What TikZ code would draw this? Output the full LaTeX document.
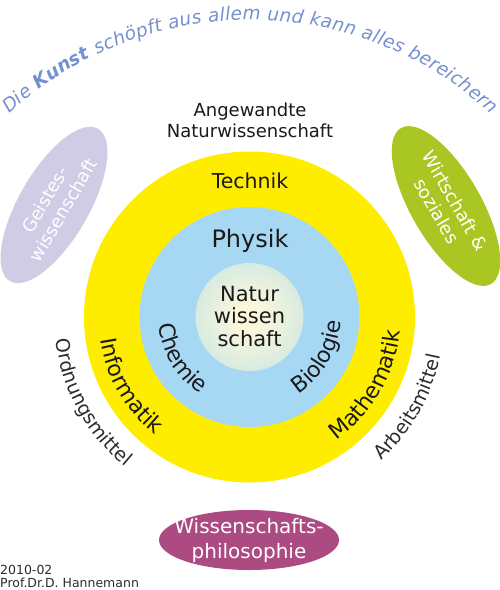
\documentclass[tikz,border=0pt]{standalone}
\usepackage{fontspec}
\setmainfont{DejaVu Sans}
\usetikzlibrary{shapes.geometric,decorations.text}
\definecolor{ringyellow}{HTML}{FFED00}
\definecolor{skyblue}{HTML}{A6D8F4}
\definecolor{glowin}{HTML}{FBF7DC}
\definecolor{glowout}{HTML}{A9DBE6}
\definecolor{lavender}{HTML}{D0CCE6}
\definecolor{leaf}{HTML}{A9C623}
\definecolor{berry}{HTML}{AC4A82}
\definecolor{artblue}{HTML}{7490CE}
\definecolor{ink}{HTML}{1A1A1A}
\definecolor{greyink}{HTML}{2B2B2B}
\pgfdeclareradialshading{glow}{\pgfpoint{0bp}{0bp}}{color(0bp)=(glowin); color(6bp)=(glowin); color(50bp)=(glowout); color(100bp)=(glowout)}
\newcommand{\fs}[1]{\fontsize{#1}{#1}\selectfont}
\begin{document}
\begin{tikzpicture}[x=1pt,y=1pt,
  disc/.style={circle, inner sep=0pt},
  blob/.style={ellipse, inner sep=0pt},
  blobtext/.style={text=white, align=center, inner sep=0pt},
  arclabel/.style={decorate, decoration={text along path, text align=center, text color=#1}},
  arclabel/.default=ink]
\useasboundingbox (0,0) rectangle (500,-590);
\coordinate (c) at (249.5,-317);
\coordinate (artc) at (250,-376);
% circles
\node[disc, fill=ringyellow, minimum size=331pt] (ring) at (c) {};
\node[disc, fill=skyblue, minimum size=220pt] (field) at (c) {};
\node[disc, shading=glow, minimum size=108pt] (core) at (c) {};
\node[align=center, text=ink, font=\fontsize{21}{22.5}\selectfont] (natur) at (249.5,-316) {Natur\\wissen\\schaft};
% straight labels
\node[align=center, text=ink, font=\fontsize{18}{21}\selectfont, inner sep=0pt] (angew) at (250,-120.6) {Angewandte\\Naturwissenschaft};
\node[anchor=base, text=ink, font=\fs{20.5}, inner sep=0pt] (technik) at (250,-188) {Technik};
\node[anchor=base, text=ink, font=\fs{24}, inner sep=0pt] (physik) at (250,-247) {Physik};
% curved labels
\path[arclabel, decoration={text={|\fs{22}|Chemie}}] ([shift={(166:91)}]c) arc[start angle=166, end angle=256, radius=91];
\path[arclabel, decoration={text={|\fs{22}|Biologie}}] ([shift={(-75:91)}]c) arc[start angle=-75, end angle=15, radius=91];
\path[arclabel, decoration={text={|\fs{22}|Informatik}}] ([shift={(168:151)}]c) arc[start angle=168, end angle=252, radius=151];
\path[arclabel, decoration={text={|\fs{22}|Mathematik}}] ([shift={(-72:151)}]c) arc[start angle=-72, end angle=12, radius=151];
\path[arclabel=greyink, decoration={text={|\fs{19}|Ordnungsmittel}}] ([shift={(176:195)}]c) arc[start angle=176, end angle=241, radius=195];
\path[arclabel=greyink, decoration={text={|\fs{19}|Arbeitsmittel}}] ([shift={(-62:195)}]c) arc[start angle=-62, end angle=3, radius=195];
% art arc
\path[decorate, decoration={text along path, text align=fit to path, text color=artblue,
  text={|\fs{18.5}\itshape|Die |\fs{18.5}\bfseries\itshape|Kunst |\fs{18.5}\itshape|schöpft aus allem und kann alles bereichern}}]
  ([shift={(132.6:356)}]artc) arc[start angle=132.6, end angle=47.4, radius=356];
% side ellipses
\node[blob, fill=lavender, minimum width=176pt, minimum height=70pt, rotate=60] (geist) at (54,-205) {};
\node[blobtext, rotate=60, font=\fontsize{18}{21}\selectfont] (geisttext) at (geist.center) {Geistes-\\wissenschaft};
\node[blob, fill=leaf, minimum width=180pt, minimum height=70pt, rotate=-60] (wirt) at (446,-206) {};
\node[blobtext, rotate=-60, font=\fontsize{18}{21}\selectfont] (wirttext) at (wirt.center) {Wirtschaft \&\\soziales};
\node[blob, fill=berry, minimum width=180pt, minimum height=60pt] (philo) at (249,-540) {};
\node[blobtext, font=\fontsize{20}{25}\selectfont] (philotext) at (philo.center) {Wissenschafts-\\philosophie};
% credit
\node[anchor=south west, align=left, inner sep=0pt, text=greyink, font=\fontsize{12.5}{13}\selectfont] (credit) at (0,-588) {2010-02\\Prof.Dr.D. Hannemann};
\end{tikzpicture}
\end{document}
